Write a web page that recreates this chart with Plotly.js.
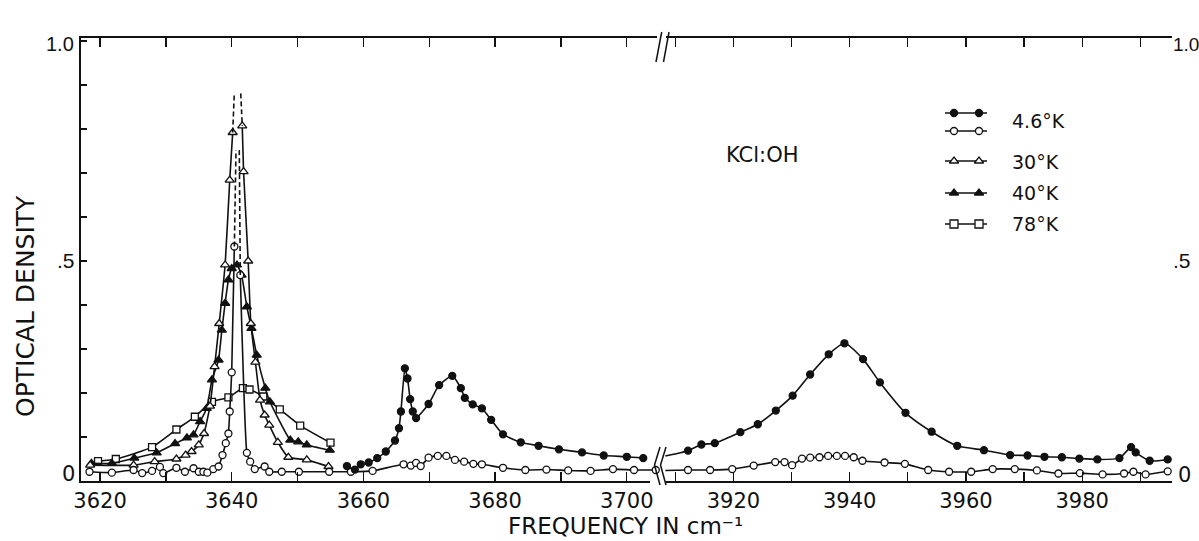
<!DOCTYPE html>
<html>
<head>
<meta charset="utf-8">
<script src="https://cdn.plot.ly/plotly-3.0.1.min.js"></script>
<style>html,body{margin:0;padding:0;background:#fff;}#chart{width:1199px;height:541px;}</style>
</head>
<body>
<div id="chart"></div>
<script>
// ---------------- DATA ----------------
// 4.6 K, open circles, low band (rising flank, then falling flank + 3660-3705 region)
const open46RiseX = [3618.4, 3621.8, 3625.1, 3626.4, 3627.9, 3629.1, 3629.6, 3631.6, 3632.9, 3634.2, 3635.0, 3635.7, 3636.3, 3637.2, 3638.0, 3638.6, 3639.1, 3639.5, 3639.7, 3640.0, 3640.4];
const open46RiseY = [0.021, 0.019, 0.025, 0.018, 0.023, 0.032, 0.018, 0.030, 0.021, 0.029, 0.021, 0.021, 0.019, 0.027, 0.033, 0.059, 0.086, 0.108, 0.158, 0.247, 0.533];
const open46FallX = [3641.3, 3642.3, 3642.8, 3643.5, 3645.0, 3645.7, 3647.6, 3650.2, 3654.8, 3658.1, 3661.4, 3666.1, 3667.2, 3668.0, 3668.7, 3669.9, 3671.3, 3672.6, 3673.9, 3675.3, 3676.7, 3678.0, 3681.2, 3684.6, 3687.8, 3691.1, 3694.5, 3697.9, 3701.1, 3704.4];
const open46FallY = [0.468, 0.064, 0.044, 0.027, 0.033, 0.021, 0.021, 0.021, 0.021, 0.021, 0.023, 0.038, 0.035, 0.041, 0.034, 0.053, 0.057, 0.057, 0.048, 0.044, 0.039, 0.038, 0.030, 0.025, 0.026, 0.024, 0.023, 0.027, 0.025, 0.025];
const open46TipX = [3640.4, 3640.65, null, 3641.15, 3641.3];
const open46TipY = [0.533, 0.752, null, 0.752, 0.468];
// 4.6 K, open circles, high band
const open46HighX = [3908.3, 3912.2, 3916.0, 3919.8, 3923.5, 3927.2, 3928.8, 3930.1, 3931.8, 3933.2, 3934.8, 3936.3, 3937.8, 3939.2, 3940.7, 3942.2, 3946.0, 3949.5, 3953.5, 3957.1, 3960.9, 3964.6, 3968.4, 3972.2, 3975.9, 3979.6, 3983.5, 3987.2, 3988.8, 3990.9, 3994.7];
const open46HighY = [0.024, 0.025, 0.025, 0.027, 0.035, 0.043, 0.043, 0.036, 0.051, 0.053, 0.054, 0.057, 0.057, 0.057, 0.054, 0.046, 0.042, 0.039, 0.025, 0.021, 0.021, 0.027, 0.027, 0.024, 0.017, 0.018, 0.015, 0.017, 0.021, 0.015, 0.022];
// 4.6 K, filled circles
const filled46MidX = [3657.5, 3658.7, 3659.6, 3660.8, 3662.1, 3663.4, 3664.8, 3665.4, 3665.7, 3666.3, 3666.7, 3667.1, 3667.5, 3668.0, 3669.9, 3671.5, 3673.5, 3674.8, 3675.4, 3676.6, 3678.0, 3679.4, 3681.2, 3683.9, 3686.6, 3689.7, 3693.2, 3696.5, 3700.0, 3702.5];
const filled46MidY = [0.034, 0.026, 0.038, 0.042, 0.052, 0.067, 0.092, 0.120, 0.158, 0.256, 0.233, 0.186, 0.158, 0.143, 0.175, 0.218, 0.239, 0.211, 0.189, 0.174, 0.165, 0.139, 0.106, 0.088, 0.080, 0.072, 0.065, 0.058, 0.055, 0.052];
const filled46HighX = [3908.3, 3912.2, 3914.5, 3916.8, 3921.2, 3924.2, 3927.3, 3930.2, 3933.2, 3936.4, 3939.1, 3942.3, 3945.2, 3949.6, 3954.1, 3958.5, 3963.1, 3967.6, 3970.6, 3973.5, 3976.5, 3979.5, 3982.6, 3986.4, 3988.4, 3989.2, 3991.6, 3994.7];
const filled46HighY = [0.057, 0.069, 0.083, 0.086, 0.111, 0.129, 0.160, 0.194, 0.242, 0.288, 0.313, 0.277, 0.224, 0.155, 0.112, 0.080, 0.070, 0.059, 0.058, 0.055, 0.054, 0.051, 0.049, 0.052, 0.077, 0.065, 0.046, 0.049];
// 30 K, open triangles
const t30RiseX = [3618.5, 3625.1, 3628.3, 3631.6, 3633.0, 3633.9, 3635.0, 3635.8, 3636.7, 3637.4, 3638.1, 3639.0, 3639.7, 3640.15];
const t30RiseY = [0.036, 0.036, 0.044, 0.050, 0.059, 0.067, 0.082, 0.108, 0.170, 0.260, 0.358, 0.491, 0.684, 0.792];
const t30FallX = [3641.6, 3641.8, 3642.5, 3642.9, 3643.6, 3644.3, 3645.0, 3645.7, 3647.0, 3648.6, 3651.4, 3654.7];
const t30FallY = [0.807, 0.703, 0.500, 0.358, 0.270, 0.184, 0.150, 0.127, 0.088, 0.054, 0.048, 0.033];
const t30TipX = [3640.15, 3640.39, null, 3641.37, 3641.6];
const t30TipY = [0.792, 0.881, null, 0.881, 0.807];
// 40 K, filled triangles
const t40X = [3618.7, 3621.8, 3625.2, 3628.6, 3631.4, 3633.2, 3634.2, 3635.2, 3636.2, 3637.0, 3638.0, 3638.5, 3639.0, 3639.5, 3640.0, 3640.8, 3641.5, 3642.3, 3643.0, 3643.8, 3645.1, 3645.8, 3648.9, 3650.1, 3651.4, 3654.9];
const t40Y = [0.040, 0.040, 0.052, 0.064, 0.085, 0.098, 0.105, 0.135, 0.165, 0.230, 0.275, 0.343, 0.404, 0.457, 0.483, 0.491, 0.468, 0.396, 0.347, 0.286, 0.211, 0.180, 0.093, 0.089, 0.082, 0.070];
// 78 K, open squares
const s78X = [3619.7, 3622.4, 3627.9, 3631.6, 3634.4, 3637.0, 3639.5, 3641.7, 3642.7, 3644.8, 3647.3, 3650.4, 3655.0];
const s78Y = [0.045, 0.050, 0.077, 0.117, 0.146, 0.180, 0.190, 0.211, 0.208, 0.192, 0.163, 0.126, 0.087];
// ticks and labels
const leftTickVals = [3620, 3640, 3660, 3680, 3700];
const leftMinorVals = [3630, 3650, 3670, 3690];
const rightTickVals = [3920, 3940, 3960, 3980];
const rightMinorVals = [3910, 3930, 3950, 3970, 3990];
const yTickVals = [0, 0.1, 0.2, 0.3, 0.4, 0.5, 0.6, 0.7, 0.8, 0.9, 1.0];
const yLabelText = ['0', '.5', '1.0'];
const legendLabels = ['4.6°K', '30°K', '40°K', '78°K'];

// ---------------- LAYOUT HELPERS ----------------
const L = 81, R = 1172, T = 38, B = 481;
const PX = x => (x - L) / (R - L);
const PY = y => (B - y) / (B - T);
const INK = '#111';
const FONT = 'DejaVu Sans, Liberation Sans, sans-serif';
const NUMFONT = 'Liberation Sans, Arial, sans-serif';
const LW = 1.6;

function series(x, y, xa, sym, fill, opts) {
  opts = opts || {};
  return {
    x: x, y: y, xaxis: xa, yaxis: 'y', type: 'scatter', mode: opts.mode || 'lines+markers',
    cliponaxis: false, hoverinfo: 'skip',
    line: {color: INK, width: LW, shape: opts.shape || 'spline', smoothing: opts.smoothing == null ? 0.5 : opts.smoothing, dash: opts.dash || 'solid'},
    marker: {symbol: sym, size: opts.size || 7, color: fill, opacity: 1, line: {color: INK, width: 1.3}}
  };
}
function leadIn(n, s) { const a = new Array(n).fill(s); a[0] = 0; return a; }

const traces = [
  series(s78X, s78Y, 'x', 'square', '#fff', {size: 7}),
  series(t40X, t40Y, 'x', 'triangle-up', INK, {size: 8, smoothing: 0.4}),
  series(t30RiseX, t30RiseY, 'x', 'triangle-up', '#fff', {size: 8, smoothing: 0.4}),
  series(t30FallX, t30FallY, 'x', 'triangle-up', '#fff', {size: 8, smoothing: 0.4}),
  series(t30TipX, t30TipY, 'x', 'circle', INK, {mode: 'lines', shape: 'linear', dash: '5px,3px'}),
  series(open46RiseX, open46RiseY, 'x', 'circle', '#fff', {smoothing: 0.4}),
  series(open46FallX, open46FallY, 'x', 'circle', '#fff', {smoothing: 0.4}),
  series(open46TipX, open46TipY, 'x', 'circle', INK, {mode: 'lines', shape: 'linear', dash: '5px,3px'}),
  series(filled46MidX, filled46MidY, 'x', 'circle', INK, {smoothing: 0.5}),
  series(open46HighX, open46HighY, 'x2', 'circle', '#fff', {smoothing: 0.6}),
  series(filled46HighX, filled46HighY, 'x2', 'circle', INK, {smoothing: 0.6})
];
// lead-in points at the break carry no marker
traces[9].marker.size = leadIn(open46HighX.length, 7);
traces[10].marker.size = leadIn(filled46HighX.length, 7);

// legend samples drawn on a pixel overlay
const legRows = [113, 131, 161, 193, 224];
const legSyms = [['circle', INK], ['circle', '#fff'], ['triangle-up', '#fff'], ['triangle-up', INK], ['square', '#fff']];
legRows.forEach((ry, i) => {
  const s = i >= 2 ? 8 : 7;
  traces.push({
    x: [945, 954, 979, 987], y: [ry, ry, ry, ry], xaxis: 'x3', yaxis: 'y3', type: 'scatter',
    mode: 'lines+markers', cliponaxis: false, hoverinfo: 'skip',
    line: {color: INK, width: LW},
    marker: {symbol: legSyms[i][0], color: legSyms[i][1], opacity: 1, size: [0, s, s, 0], line: {color: INK, width: 1.3}}
  });
});

const dL = PX(657), dR = PX(665);
const yTop = (B - T) / 440;
const tickfont = {family: FONT, size: 21, color: INK};
const xCommon = {
  ticks: 'inside', ticklen: 9, tickwidth: 1.4, tickcolor: INK, showline: true, linecolor: INK, linewidth: 1.6,
  mirror: 'ticks', showgrid: false, zeroline: false, tickfont: tickfont, anchor: 'y', fixedrange: true
};
const yCommon = {
  range: [0, yTop], tickvals: yTickVals, ticks: 'inside', ticklen: 6, tickwidth: 1.4, tickcolor: INK,
  showline: true, linecolor: INK, linewidth: 1.6, showgrid: false, zeroline: false, showticklabels: false, fixedrange: true
};

const ann = [];
function txt(t, x, y, size, xanchor, extra, family) {
  ann.push(Object.assign({text: t, x: PX(x), y: PY(y), xref: 'paper', yref: 'paper', showarrow: false,
    xanchor: xanchor || 'center', yanchor: 'middle', font: {family: family || FONT, size: size, color: INK}}, extra || {}));
}
txt(yLabelText[2], 76, 44, 20, 'right', null, NUMFONT);
txt(yLabelText[1], 77, 260, 21, 'right', null, NUMFONT);
txt(yLabelText[0], 77, 474, 21, 'right');
txt(yLabelText[2], 1171, 44, 19, 'left', null, NUMFONT);
txt(yLabelText[1], 1171, 260, 21, 'left', null, NUMFONT);
txt(yLabelText[0], 1176, 475, 21, 'left');
txt('OPTICAL DENSITY', 25, 306, 25, 'center', {textangle: -90});
txt('FREQUENCY IN cm\u207B\u00B9', 625, 526, 23, 'center');
txt('KCl:OH', 762, 155, 21, 'center');
const legTextY = [121, 162, 193, 224];
legendLabels.forEach((t, i) => txt(t, 1010, legTextY[i], 19, 'left'));

const ln = (x0, y0, x1, y1) => ({type: 'line', xref: 'paper', yref: 'paper', x0: PX(x0), y0: PY(y0), x1: PX(x1), y1: PY(y1), line: {color: INK, width: 1.5}});
const shapes = [
  {type: 'rect', xref: 'paper', yref: 'paper', x0: PX(650), x1: PX(666), y0: PY(486), y1: PY(477), fillcolor: '#fff', line: {width: 0}, layer: 'above'},
  {type: 'rect', xref: 'paper', yref: 'paper', x0: PX(659), x1: PX(666), y0: PY(42), y1: PY(34), fillcolor: '#fff', line: {width: 0}, layer: 'above'},
  ln(656, 62, 661.7, 32), ln(663.5, 62, 669, 32),
  ln(660, 447, 654.5, 465), ln(654.5, 465, 660, 485),
  ln(666, 447, 660.5, 465), ln(660.5, 465, 666, 485)
];

const minorCommon = {ticks: 'inside', ticklen: 9, tickwidth: 1.4, tickcolor: INK, showgrid: false};
const layout = {
  width: 1199, height: 541, margin: {l: L, r: 1199 - R, t: T, b: 541 - B, pad: 0},
  paper_bgcolor: '#fff', plot_bgcolor: 'rgba(0,0,0,0)', showlegend: false,
  font: {family: FONT, color: INK},
  xaxis: Object.assign({}, xCommon, {domain: [0, dL], range: [3617.11, 3704.59], tickvals: leftTickVals,
    minor: Object.assign({tickvals: leftMinorVals}, minorCommon)}),
  xaxis2: Object.assign({}, xCommon, {domain: [dR, 1], range: [3908.24, 3995.44], tickvals: rightTickVals,
    minor: Object.assign({tickvals: rightMinorVals}, minorCommon)}),
  yaxis: Object.assign({}, yCommon, {domain: [0, 1], anchor: 'x', side: 'left'}),
  yaxis2: Object.assign({}, yCommon, {overlaying: 'y', anchor: 'x2', side: 'right'}),
  xaxis3: {domain: [0, 1], range: [L, R], visible: false, anchor: 'y3', fixedrange: true},
  yaxis3: {domain: [0, 1], range: [B, T], visible: false, anchor: 'x3', fixedrange: true},
  annotations: ann,
  shapes: shapes
};

Plotly.newPlot('chart', traces, layout, {displayModeBar: false, staticPlot: true});
</script>
</body>
</html>
